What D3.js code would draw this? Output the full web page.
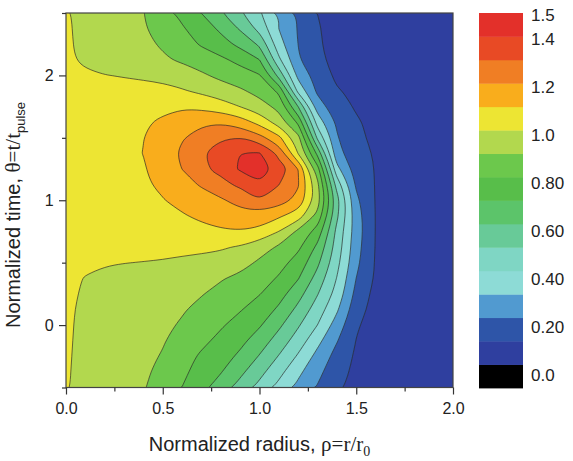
<!DOCTYPE html>
<html>
<head>
<meta charset="utf-8">
<title>Normalized contour map</title>
<script src="https://d3js.org/d3.v7.min.js"></script>
<style>
  body { margin: 0; background: #fff; }
  svg { display: block; font-family: "Liberation Sans", Arial, sans-serif; }
</style>
</head>
<body>
<svg width="573" height="461"></svg>
<script>
// grid positions
const rhoGrid = [0, 0.1, 0.2, 0.3, 0.4, 0.5, 0.6, 0.7, 0.8, 0.9, 1.0, 1.1, 1.2, 1.3, 1.4, 1.5, 1.6, 1.7, 1.8, 1.9, 2.0];
const thetaGrid = [2.5, 2.375, 2.25, 2.125, 2.0, 1.875, 1.75, 1.625, 1.5, 1.375, 1.25, 1.125, 1.0,
                   0.875, 0.75, 0.625, 0.5, 0.375, 0.25, 0.125, 0, -0.125, -0.25, -0.375, -0.5];

// field values, one row per theta (top row first)
const field = [
  [1.0065,0.9805,0.9545,0.9286,0.9026,0.8419,0.7741,0.699,0.609,0.514,0.4105,0.299,0.191,0.099,0.065,0.045,0.035,0.028,0.022,0.018,0.015],
  [1.008,0.9835,0.9582,0.9329,0.9076,0.8632,0.8105,0.75,0.6818,0.5889,0.4667,0.299,0.1917,0.1083,0.065,0.048,0.037,0.029,0.023,0.019,0.016],
  [1.008,0.9864,0.9636,0.9409,0.9182,0.89,0.84,0.7895,0.7368,0.675,0.5833,0.34,0.199,0.11,0.07,0.05,0.038,0.03,0.024,0.019,0.016],
  [1.01,0.9902,0.9706,0.951,0.9314,0.9118,0.8867,0.8533,0.82,0.7714,0.701,0.42,0.21,0.115,0.08,0.055,0.04,0.032,0.025,0.02,0.017],
  [1.015,1.008,1.0015,0.997,0.99,0.975,0.95,0.915,0.876,0.842,0.8085,0.5667,0.2714,0.1583,0.08,0.063,0.047,0.036,0.028,0.022,0.018],
  [1.02,1.022,1.022,1.018,1.022,1.025,1.009,0.981,0.948,0.916,0.8655,0.783,0.37,0.18,0.108,0.08,0.06,0.045,0.035,0.028,0.022],
  [1.035,1.045,1.055,1.065,1.075,1.085,1.09,1.075,1.045,0.999,0.944,0.8714,0.599,0.25,0.14,0.09,0.065,0.05,0.038,0.03,0.024],
  [1.045,1.057,1.069,1.081,1.093,1.11,1.15,1.185,1.19,1.15,1.067,0.9545,0.78,0.357,0.185,0.111,0.075,0.056,0.043,0.034,0.027],
  [1.05,1.062,1.074,1.087,1.099,1.144,1.193,1.24,1.285,1.295,1.235,1.126,0.936,0.48,0.209,0.12,0.08,0.062,0.047,0.037,0.029],
  [1.055,1.066,1.078,1.089,1.101,1.157,1.216,1.281,1.34,1.398,1.405,1.27,0.995,0.675,0.23,0.14,0.09,0.066,0.05,0.04,0.031],
  [1.055,1.065,1.075,1.085,1.094,1.131,1.201,1.271,1.33,1.41,1.44,1.35,1.199,0.84,0.33,0.155,0.095,0.07,0.053,0.042,0.033],
  [1.05,1.06,1.071,1.081,1.092,1.111,1.161,1.211,1.267,1.32,1.375,1.301,1.209,0.925,0.46,0.185,0.095,0.07,0.053,0.042,0.033],
  [1.045,1.055,1.066,1.076,1.087,1.097,1.123,1.155,1.187,1.235,1.28,1.25,1.171,0.95,0.54,0.222,0.095,0.068,0.052,0.041,0.032],
  [1.04,1.048,1.057,1.065,1.073,1.082,1.093,1.115,1.145,1.165,1.16,1.115,1.05,0.87,0.52,0.244,0.098,0.07,0.053,0.042,0.033],
  [1.03,1.036,1.042,1.048,1.054,1.06,1.068,1.078,1.088,1.094,1.075,0.999,0.879,0.76,0.472,0.25,0.097,0.07,0.053,0.042,0.033],
  [1.02,1.022,1.024,1.025,1.025,1.024,1.02,1.015,1.008,0.992,0.941,0.887,0.819,0.678,0.456,0.2375,0.096,0.07,0.053,0.042,0.033],
  [1.012,1.009,1.005,1.0015,0.998,0.994,0.986,0.98,0.973,0.935,0.885,0.833,0.762,0.62,0.43,0.225,0.092,0.067,0.051,0.04,0.032],
  [1.011,0.998,0.985,0.972,0.959,0.946,0.933,0.92,0.907,0.879,0.8375,0.791,0.706,0.5625,0.396,0.199,0.088,0.065,0.05,0.039,0.031],
  [1.0095,0.9945,0.9795,0.9645,0.9495,0.9345,0.9195,0.9045,0.8752,0.8397,0.8043,0.737,0.638,0.505,0.367,0.17,0.07,0.063,0.048,0.038,0.03],
  [1.008,0.991,0.974,0.957,0.94,0.924,0.907,0.8786,0.843,0.807,0.7518,0.6846,0.5733,0.4526,0.314,0.14,0.065,0.06,0.046,0.036,0.029],
  [1.0074,0.9889,0.9704,0.9519,0.9333,0.9148,0.8919,0.8514,0.8109,0.7622,0.7104,0.62,0.5111,0.399,0.257,0.11,0.062,0.056,0.043,0.034,0.027],
  [1.0071,0.9869,0.9667,0.9465,0.9263,0.9061,0.8682,0.8227,0.775,0.725,0.6533,0.5566,0.4532,0.3286,0.206,0.098,0.07,0.053,0.041,0.033,0.026],
  [1.0065,0.9848,0.963,0.9413,0.9196,0.8944,0.8389,0.7857,0.7381,0.6823,0.5931,0.4947,0.3875,0.2684,0.165,0.085,0.064,0.05,0.039,0.031,0.025],
  [1.0057,0.9828,0.9598,0.9368,0.9138,0.8771,0.82,0.7629,0.7057,0.6231,0.5311,0.4309,0.3222,0.2273,0.1364,0.078,0.06,0.047,0.037,0.03,0.024],
  [1.0049,0.9805,0.9561,0.9317,0.9073,0.8588,0.799,0.731,0.6522,0.5636,0.47,0.37,0.275,0.1923,0.1154,0.072,0.056,0.044,0.035,0.028,0.023]
];

// contour levels and the fill used above each level
const levels = [0, 0.1, 0.2, 0.3, 0.4, 0.5, 0.6, 0.7, 0.8, 0.9, 1.0, 1.1, 1.2, 1.3, 1.4];
const levelColors = ["#2f3f9f","#2e55a8","#519ad0","#8ddbd6","#7fd6c4","#68ca98","#5cc46a","#58be4a",
                     "#6cc84c","#b2d84e","#ede533","#f9ad1c","#f07e24","#e84a25","#e3302a"];
const belowColor = "#000000";

// colour bar tick values and their printed labels
const barTicks = [0, 0.2, 0.4, 0.6, 0.8, 1.0, 1.2, 1.4, 1.5];
const barLabels = ["0.0", "0.20", "0.40", "0.60", "0.80", "1.0", "1.2", "1.4", "1.5"];

const xMajor = [0, 0.5, 1.0, 1.5, 2.0];
const xMinor = [0.25, 0.75, 1.25, 1.75];
const yMajor = [0, 1, 2];
const yMinor = [-0.5, 0.5, 1.5, 2.5];

const svg = d3.select("svg");
const plot = {left: 66, right: 453, top: 13, bottom: 387.5};

const x = d3.scaleLinear().domain([0, 2]).range([plot.left, plot.right]);
const y = d3.scaleLinear().domain([-0.5, 2.5]).range([plot.bottom, plot.top]);

const nx = rhoGrid.length, ny = thetaGrid.length;
// contour grid units -> data units (sample k sits at k + 0.5)
const gx = d3.scaleLinear().domain([0.5, nx - 0.5]).range([rhoGrid[0], rhoGrid[nx - 1]]);
const gy = d3.scaleLinear().domain([0.5, ny - 0.5]).range([thetaGrid[0], thetaGrid[ny - 1]]);

const values = field.flat();
const contours = d3.contours().size([nx, ny]).thresholds(levels)(values);

// rounded outlines: long rings get a b-spline, small islands keep their vertices
const toPx = p => [x(gx(p[0])), y(gy(p[1]))];
const longRing = d3.line().curve(d3.curveBasisClosed);
const shortRing = d3.line().curve(d3.curveCatmullRomClosed.alpha(0.5));
function contourPath(mp) {
  return mp.coordinates
    .map(poly => poly.map(ring => {
      const pts = ring.slice(0, -1).map(toPx);
      return (pts.length > 16 ? longRing : shortRing)(pts);
    }).join(""))
    .join("");
}

svg.append("clipPath").attr("id", "clip")
  .append("rect")
  .attr("x", plot.left).attr("y", plot.top)
  .attr("width", plot.right - plot.left).attr("height", plot.bottom - plot.top);

const g = svg.append("g").attr("clip-path", "url(#clip)");

g.selectAll("path.fill")
  .data(contours)
  .join("path")
  .attr("class", "fill")
  .attr("d", contourPath)
  .attr("fill-rule", "evenodd")
  .attr("fill", (d, i) => levelColors[i])
  .attr("stroke", (d, i) => levelColors[i])
  .attr("stroke-width", 0.3);

g.selectAll("path.line")
  .data(contours.filter(d => d.value > 0))
  .join("path")
  .attr("class", "line")
  .attr("d", contourPath)
  .attr("fill", "none")
  .attr("stroke", "#2a2a2a")
  .attr("stroke-opacity", 0.85)
  .attr("stroke-width", 0.8)
  .attr("stroke-linejoin", "round");

// frame
svg.append("rect")
  .attr("x", plot.left).attr("y", plot.top)
  .attr("width", plot.right - plot.left).attr("height", plot.bottom - plot.top)
  .attr("fill", "none")
  .attr("stroke", "#444")
  .attr("stroke-width", 1.2);

// axes
const xAxis = svg.append("g").attr("transform", `translate(0,${plot.bottom})`)
  .call(d3.axisBottom(x).tickValues(xMajor).tickSize(7).tickSizeOuter(0).tickFormat(d3.format(".1f")));
svg.append("g").attr("transform", `translate(0,${plot.bottom})`)
  .call(d3.axisBottom(x).tickValues(xMinor).tickSize(4).tickSizeOuter(0).tickFormat(""));
const yAxis = svg.append("g").attr("transform", `translate(${plot.left},0)`)
  .call(d3.axisLeft(y).tickValues(yMajor).tickSize(7).tickSizeOuter(0).tickFormat(d3.format("d")));
svg.append("g").attr("transform", `translate(${plot.left},0)`)
  .call(d3.axisLeft(y).tickValues(yMinor).tickSize(4).tickSizeOuter(0).tickFormat(""));

svg.selectAll(".domain").remove();
svg.selectAll(".tick line").attr("stroke", "#333").attr("stroke-width", 1.2);
xAxis.selectAll("text").attr("font-size", 16).attr("fill", "#222").attr("dy", "1.05em");
yAxis.selectAll("text").attr("font-size", 16).attr("fill", "#222").attr("dx", "-0.15em");
svg.selectAll(".tick text").attr("font-family", "Liberation Sans, Arial, sans-serif");

// axis titles
const xt = svg.append("text")
  .attr("x", (plot.left + plot.right) / 2).attr("y", 451)
  .attr("text-anchor", "middle").attr("font-size", 20).attr("fill", "#222");
xt.append("tspan").text("Normalized radius, ");
xt.append("tspan").attr("font-family", "Liberation Serif, serif").attr("font-size", 21).text("\u03c1=r/r");
xt.append("tspan").attr("font-family", "Liberation Serif, serif").attr("font-size", 14).attr("dy", 5).text("0");

const yt = svg.append("text")
  .attr("transform", "translate(20,215) rotate(-90)")
  .attr("text-anchor", "middle").attr("font-size", 20).attr("fill", "#222");
yt.append("tspan").text("Normalized time, ");
yt.append("tspan").attr("font-family", "Liberation Serif, serif").attr("font-size", 21).text("\u03b8=t/t");
yt.append("tspan").attr("font-size", 13).attr("dy", 5).text("pulse");

// colour bar
const barBands = [belowColor].concat(levelColors);
const bar = {left: 479, right: 523, top: 13, bottom: 388};
const by = d3.scaleBand().domain(d3.range(barBands.length)).range([bar.bottom, bar.top]);
svg.append("g").selectAll("rect")
  .data(barBands)
  .join("rect")
  .attr("x", bar.left).attr("width", bar.right - bar.left)
  .attr("y", (d, i) => by(i)).attr("height", by.bandwidth() + 0.4)
  .attr("fill", d => d);

const barLab = d3.scaleLinear().domain([0, 1.5]).range([375, 15]);
svg.append("g").selectAll("text")
  .data(barTicks)
  .join("text")
  .attr("x", 531).attr("y", d => barLab(d))
  .attr("dy", "0.36em")
  .attr("font-size", 17).attr("fill", "#222")
  .text((d, i) => barLabels[i]);
</script>
</body>
</html>
